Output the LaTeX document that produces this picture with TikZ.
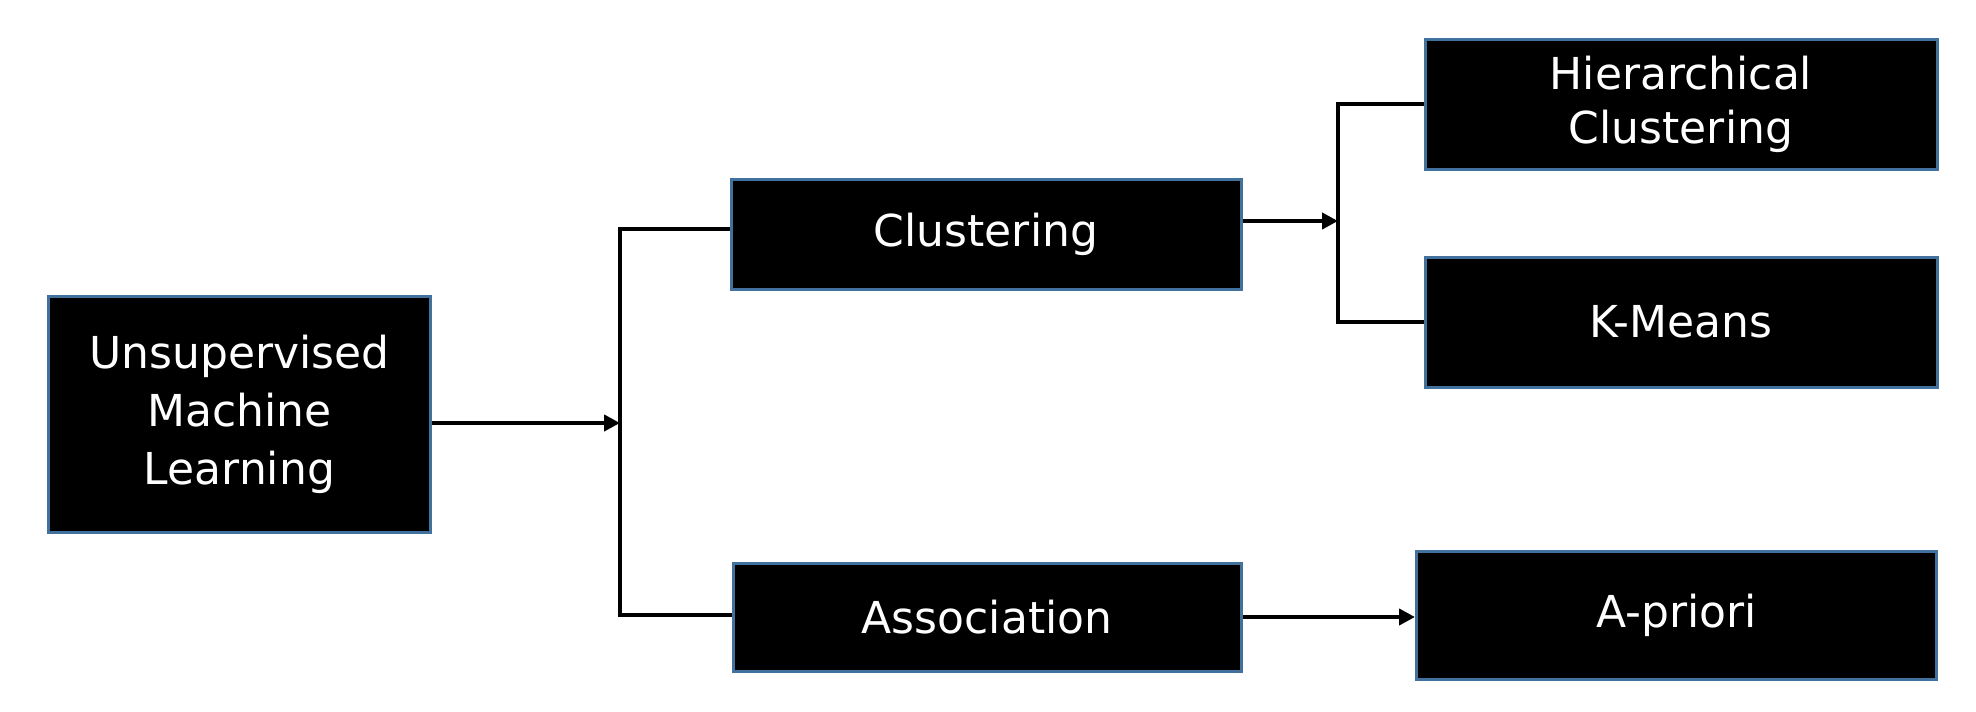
\documentclass[tikz,border=0pt]{standalone}
\usepackage{fontspec}
\setmainfont{DejaVu Sans}
\usetikzlibrary{arrows.meta}
\definecolor{boxEdge}{RGB}{65,113,156}

\begin{document}
\begin{tikzpicture}[x=0.5pt, y=-0.5pt,
	box/.style={draw=boxEdge, line width=1.5pt, fill=black, text=white, align=center,
		font=\fontsize{22}{27}\selectfont, inner sep=0pt},
	link/.style={line width=2pt, black},
	arr/.style={link, -{Triangle[length=8pt, width=8pt]}}]
	\useasboundingbox (0,0) rectangle (1976,712);
	% boxes
	\node[box, minimum width=191pt, minimum height=118pt, font=\fontsize{22}{29}\selectfont] (uml) at (239.5,414) {Unsupervised\\Machine\\Learning};
	\node[box, minimum width=255pt, minimum height=55pt] (clus) at (986,234) {Clustering};
	\node[box, minimum width=254pt, minimum height=54pt] (assoc) at (987,617) {Association};
	\node[box, minimum width=256pt, minimum height=65pt] (hier) at (1681,104) {Hierarchical\\Clustering};
	\node[box, minimum width=256pt, minimum height=65pt] (kmeans) at (1681,322) {K-Means};
	\node[box, minimum width=260pt, minimum height=64pt] (apriori) at (1676.5,615) {A-priori};
	% brackets
	\coordinate (j1) at (620,423);
	\coordinate (j2) at (1338,221);
	\draw[link] ([yshift=2.5pt]clus.west) -| (j1) |- ([yshift=1pt]assoc.west);
	\draw[link] (hier.west) -| (j2) |- (kmeans.west);
	% arrows
	\draw[arr] (uml.east |- j1) -- (j1);
	\draw[arr] (clus.east |- j2) -- (j2);
	\draw[arr] (assoc.east) -- (apriori.west |- assoc.east);
\end{tikzpicture}
\end{document}
